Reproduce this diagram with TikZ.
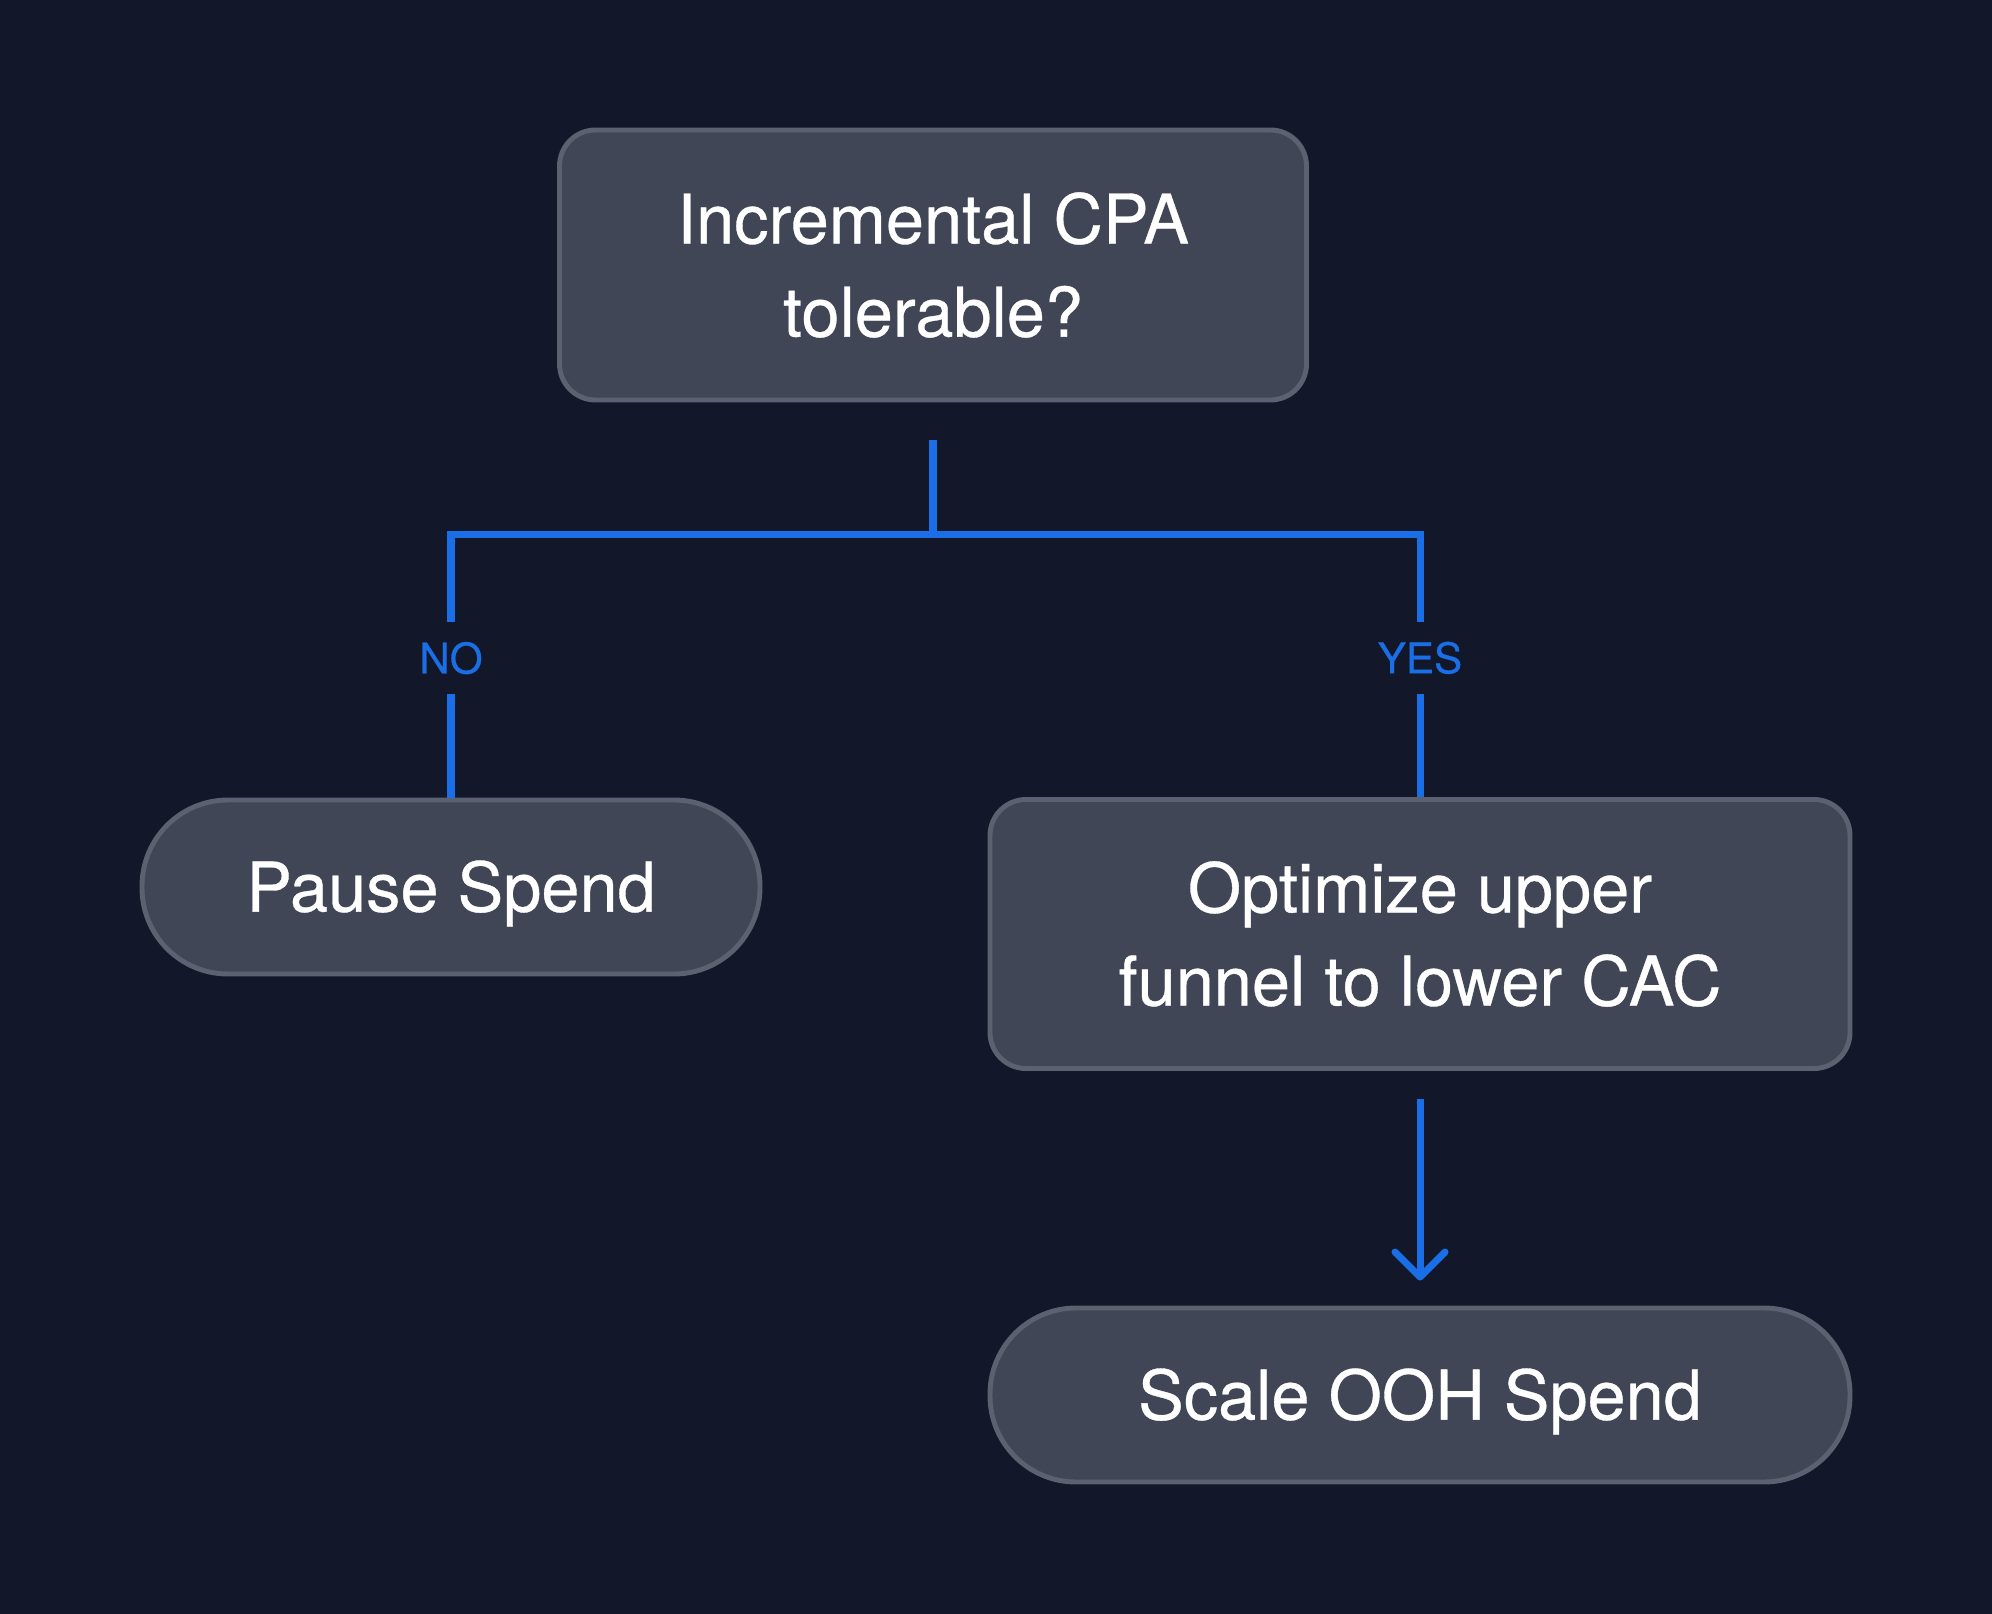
\documentclass[tikz,border=0pt]{standalone}
\usepackage{fontspec}
\setmainfont{TeX Gyre Heros}
\newfontfamily\boxfont{TeX Gyre Heros}[RawFeature={embolden=0.5}]
\usetikzlibrary{arrows.meta}
\definecolor{bgnavy}{HTML}{121729}
\definecolor{boxgrey}{HTML}{404655}
\definecolor{edgegrey}{HTML}{5B616F}
\definecolor{flowblue}{HTML}{1A6FE6}
\tikzset{
  decision/.style={draw=edgegrey, fill=boxgrey, line width=1.4pt, rounded corners=0.36cm,
    text=white, align=center, font=\boxfont\fontsize{19.5}{26.5}\selectfont},
  pill/.style={decision, rounded corners=0.86cm, minimum height=1.74cm,
    text height=14pt, text depth=0pt},
  flow/.style={draw=flowblue, line width=2pt},
  answer/.style={fill=bgnavy, text=flowblue, inner xsep=1pt, inner ysep=0.2cm,
    font=\boxfont\fontsize{12}{14}\selectfont}
}

\begin{document}
\begin{tikzpicture}
  \useasboundingbox[fill=bgnavy] (0,0) rectangle (19.92,-16.14);
  \node[decision, minimum width=7.47cm, minimum height=2.70cm] (tolerable) at (9.33,-2.65) {Incremental CPA\\tolerable?};
  \node[pill, minimum width=6.18cm] (pause) at (4.51,-8.87) {Pause Spend};
  \node[decision, minimum width=8.60cm, minimum height=2.69cm] (optimize) at (14.20,-9.34) {Optimize upper\\funnel to lower CAC};
  \node[pill, minimum width=8.60cm] (scale) at (14.20,-13.95) {Scale OOH Spend};
  \draw[flow, shorten <=0.38cm] (tolerable.south) -- ++(0,-1.32) -| node[pos=0.735, answer] {NO} (pause.north);
  \draw[flow, shorten <=0.38cm] (tolerable.south) -- ++(0,-1.32) -| node[pos=0.735, answer] {YES} (optimize.north);
  \draw[flow, shorten <=0.28cm, shorten >=0.25cm, -{Straight Barb[length=0.25cm, width=0.5cm, round]}] (optimize.south) -- (scale.north);
\end{tikzpicture}
\end{document}
